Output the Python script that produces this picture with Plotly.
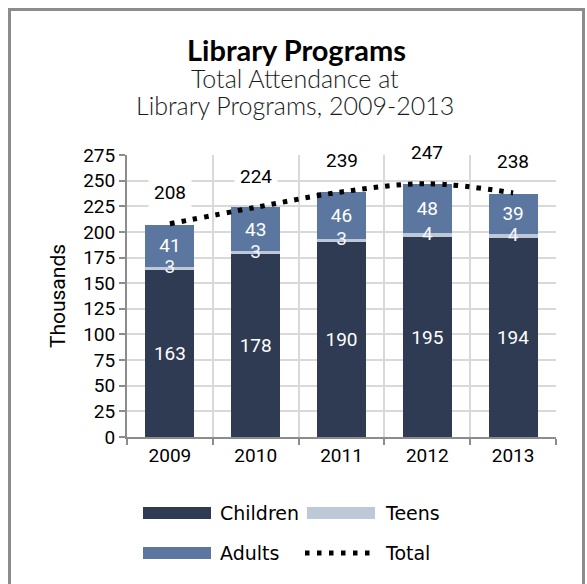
import plotly.graph_objects as go

# Attendance at library programs, thousands
years = ["2009", "2010", "2011", "2012", "2013"]
children = [163, 178, 190, 195, 194]
teens = [3, 3, 3, 4, 4]
adults = [41, 43, 46, 48, 39]
totals = [208, 224, 239, 247, 238]
y_ticks = [0, 25, 50, 75, 100, 125, 150, 175, 200, 225, 250, 275]

C_CHILD = "#2E3B52"
C_TEEN = "#BDC8D9"
C_ADULT = "#5B779F"
AXIS_GREY = "#8C8C8C"
GRID_GREY = "#D9D9D9"

W, H = 587, 584
PL, PR, PT, PB = 127, 556, 155, 437  # plot area in pixels


def px(x):
    return (x - PL) / (PR - PL)


def py(y):
    return (PB - y) / (PB - PT)


fig = go.Figure()

fig.add_bar(x=years, y=children, name="Children", marker_color=C_CHILD,
            marker_line_width=0, text=children, texttemplate="%{text}",
            textposition="inside", insidetextanchor="middle",
            textfont=dict(family="Roboto", size=19, color="white"))
fig.add_bar(x=years, y=teens, name="Teens", marker_color=C_TEEN,
            marker_line_width=0, textposition="none")
fig.add_bar(x=years, y=adults, name="Adults", marker_color=C_ADULT,
            marker_line_width=0, text=adults, texttemplate="%{text}",
            textposition="inside", insidetextanchor="middle",
            textfont=dict(family="Roboto", size=19, color="white"))

# teens labels sit on top of the thin segment and spill over its neighbours
teen_mid = [c + t / 2 for c, t in zip(children, teens)]
fig.add_scatter(x=years, y=teen_mid, mode="text", text=[str(t) for t in teens],
                textfont=dict(family="Roboto", size=19, color="#F4F6FA"),
                textposition="middle center", showlegend=False, hoverinfo="skip")

fig.add_scatter(x=years, y=totals, name="Total", mode="lines",
                line=dict(color="black", width=5, dash="4.5px,7px",
                          shape="spline", smoothing=1.0),
                hoverinfo="skip")

annotations = []
for i, t in enumerate(totals):
    annotations.append(dict(x=i, y=t, xref="x", yref="y", text=str(t),
                            showarrow=False, yshift=31, bgcolor="white",
                            borderpad=5,
                            font=dict(family="Roboto", size=19, color="black")))

# titles
annotations.append(dict(xref="paper", yref="paper", x=px(296), y=py(49),
                        text="<b>Library Programs</b>", showarrow=False,
                        xanchor="center", yanchor="middle",
                        font=dict(family="Lato", size=29, color="black")))
for txt, cy in [("Total Attendance at", 78), ("Library Programs, 2009-2013", 105)]:
    annotations.append(dict(xref="paper", yref="paper", x=px(295), y=py(cy),
                            text=txt, showarrow=False, xanchor="center",
                            yanchor="middle",
                            font=dict(family="Lato Light, Lato", size=25,
                                      color="#1a1a1a", weight=300)))

shapes = []
# outer frame
shapes.append(dict(type="rect", xref="paper", yref="paper",
                   x0=px(9.5), x1=px(583.5), y0=py(640), y1=py(9.5),
                   line=dict(color=AXIS_GREY, width=3), layer="below"))

# legend
legend_items = [
    ("Children", C_CHILD, 143, 218, 513, "bar"),
    ("Teens", C_TEEN, 307, 383, 513, "bar"),
    ("Adults", C_ADULT, 143, 218, 553, "bar"),
    ("Total", "black", 305, 383, 553, "dots"),
]
for label, col, sx, tx, cy, kind in legend_items:
    if kind == "bar":
        shapes.append(dict(type="rect", xref="paper", yref="paper",
                           x0=px(sx), x1=px(sx + 68), y0=py(cy + 6), y1=py(cy - 6),
                           fillcolor=col, line=dict(width=0)))
    else:
        shapes.append(dict(type="line", xref="paper", yref="paper",
                           x0=px(sx), x1=px(sx + 67), y0=py(cy), y1=py(cy),
                           line=dict(color=col, width=5, dash="4.5px,7.5px")))
    annotations.append(dict(xref="paper", yref="paper", x=px(tx), y=py(cy),
                            text=label, showarrow=False, xanchor="left",
                            yanchor="middle",
                            font=dict(family="DejaVu Sans", size=19,
                                      color="black")))

fig.update_layout(
    width=W, height=H,
    margin=dict(l=PL, r=W - PR, t=PT, b=H - PB, pad=0),
    paper_bgcolor="white", plot_bgcolor="white",
    barmode="stack", bargap=0.43,
    showlegend=False,
    annotations=annotations, shapes=shapes,
    uniformtext=dict(minsize=19, mode="show"),
)
fig.update_xaxes(type="category", range=[-0.5, 4.5], tickson="boundaries",
                 showgrid=True, gridcolor=GRID_GREY, gridwidth=2,
                 showline=True, linecolor=AXIS_GREY, linewidth=2,
                 ticks="outside", ticklen=6, tickwidth=2, tickcolor=AXIS_GREY,
                 tickfont=dict(family="Roboto", size=19, color="black"))
fig.update_yaxes(range=[0, 275], tickvals=y_ticks, showgrid=True,
                 gridcolor=GRID_GREY, gridwidth=2, zeroline=False,
                 showline=True, linecolor=AXIS_GREY, linewidth=2,
                 ticks="outside", ticklen=6, tickwidth=2, tickcolor=AXIS_GREY,
                 tickfont=dict(family="Roboto", size=19, color="black"),
                 title=dict(text="Thousands", standoff=12,
                            font=dict(family="Roboto", size=21, color="black")))

fig.write_html("out.html")
